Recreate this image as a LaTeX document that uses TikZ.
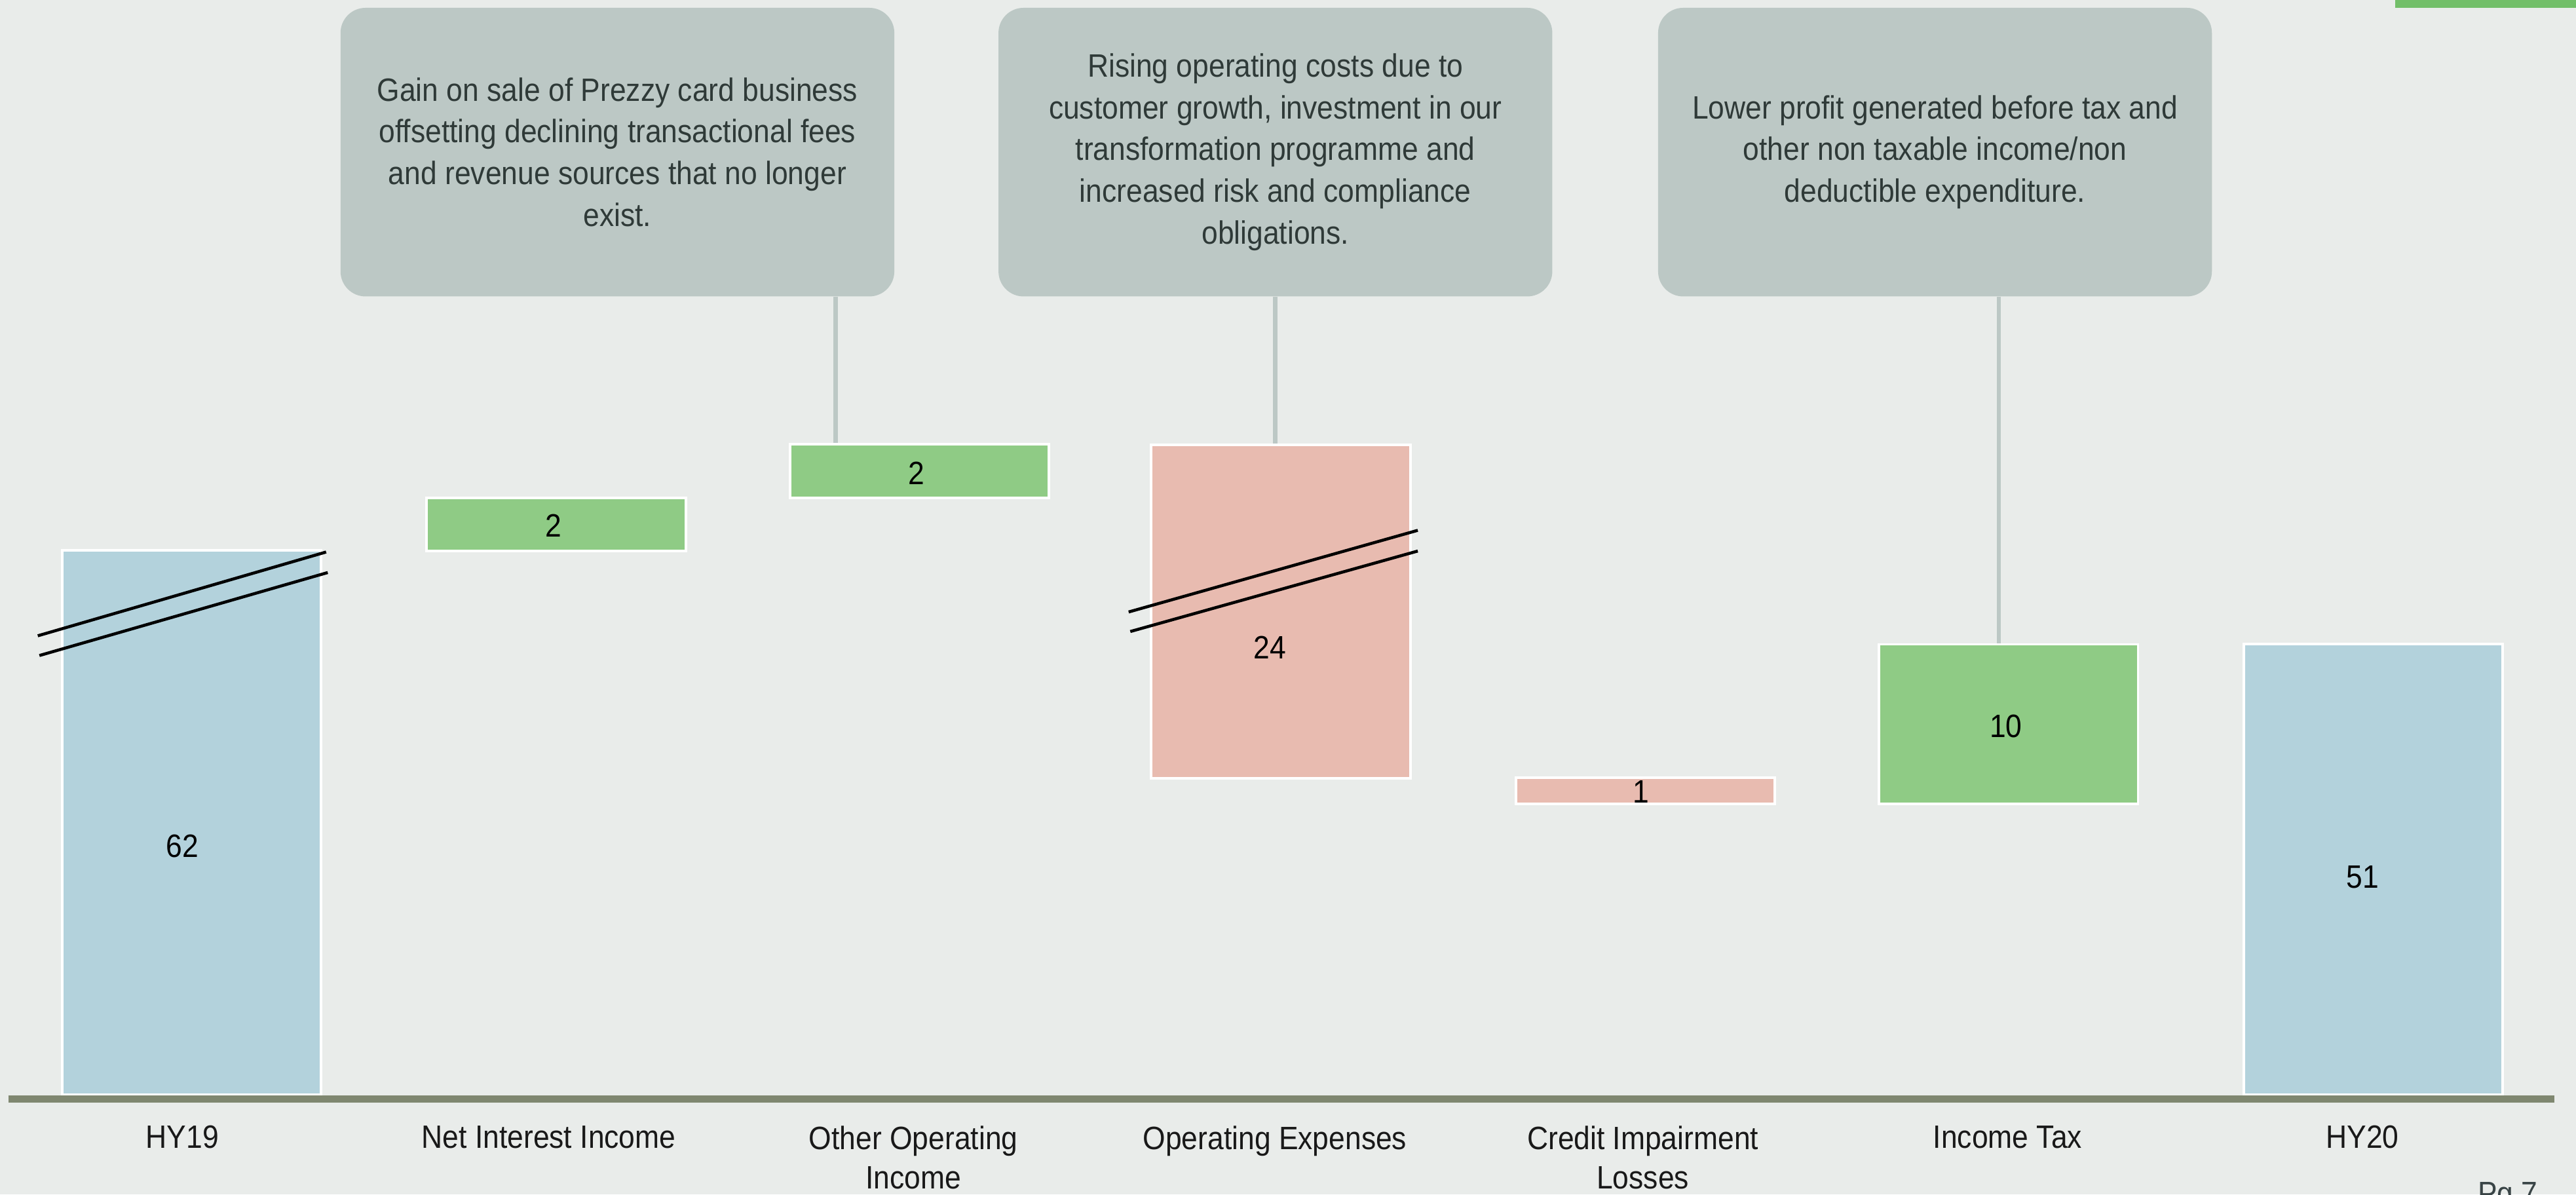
\documentclass[tikz,border=0pt]{standalone}
\usepackage{fontspec}
\setmainfont{Liberation Sans}[FakeStretch=0.9]

\definecolor{pagebg}{RGB}{233,236,234}
\definecolor{notefill}{RGB}{188,200,197}
\definecolor{notetext}{RGB}{47,58,56}
\definecolor{totalblue}{RGB}{179,210,220}
\definecolor{upgreen}{RGB}{143,203,133}
\definecolor{downred}{RGB}{232,187,176}
\definecolor{axisgreen}{RGB}{127,135,112}
\definecolor{brandgreen}{RGB}{114,191,105}
\definecolor{pagetext}{RGB}{57,68,70}

\newcommand{\calloutfont}{\fontsize{14}{18.1}\selectfont}
\newcommand{\axisfont}{\fontsize{14}{17.1}\selectfont}

\begin{document}
\begin{tikzpicture}[
        x=0.025cm, y=-0.025cm,
        bar/.style={rectangle, draw=white, line width=1.1pt, inner sep=0pt, anchor=south west, minimum width=3.94cm},
        total/.style={bar, fill=totalblue},
        gain/.style={bar, fill=upgreen},
        loss/.style={bar, fill=downred},
        barvalue/.style={font=\axisfont, text=black, inner sep=0pt},
        callout/.style={rectangle, rounded corners=0.38cm, fill=notefill, text=notetext, anchor=north west, minimum width=8.425cm, minimum height=4.39cm, align=center, font=\calloutfont},
        link/.style={draw=notefill, line width=1.9pt},
        category/.style={anchor=north, inner sep=0pt, align=center, font=\axisfont, text=black!90},
        breakmark/.style={draw=black, line width=1.3pt}
    ]
        % Page background
        \useasboundingbox (0,0) rectangle (1568,727);
        \fill[pagebg] (0,0) rectangle (1568,727);
        \fill[brandgreen] (1458,0) rectangle (1568,4.7);

        % Bars (bottom left corner at the given point)
        \node[total, minimum height=8.275cm] (hy19) at (37,667) {};
        \node[gain, minimum height=0.8cm] (nii) at (259,336) {};
        \node[gain, minimum height=0.825cm] (ooi) at (480,304) {};
        \node[loss, minimum height=5.075cm] (opex) at (700,474.5) {};
        \node[loss, minimum height=0.4cm] (cil) at (922,490) {};
        \node[gain, minimum height=2.425cm] (tax) at (1143,490) {};
        \node[total, minimum height=6.85cm] (hy20) at (1365,667) {};

        % Bar values
        \node[barvalue] (v_hy19) at (111,515) {62};
        \node[barvalue] (v_nii) at (337,320) {2};
        \node[barvalue] (v_ooi) at (558,288) {2};
        \node[barvalue] (v_opex) at (773,394) {24};
        \node[barvalue] (v_cil) at (999,482) {1};
        \node[barvalue] (v_tax) at (1221,442) {10};
        \node[barvalue] (v_hy20) at (1438,534) {51};

        % Axis breaks
        \draw[breakmark] (23,387) -- (198.5,336);
        \draw[breakmark] (24,399) -- (199.5,348.5);
        \draw[breakmark] (687,372.5) -- (863,322.8);
        \draw[breakmark] (688,384.4) -- (863,335.4);

        % Axis line
        \draw[axisgreen, line width=0.11cm] (5,669) -- (1555,669);

        % Callouts
        \node[callout] (note1) at (207,4.5) {Gain on sale of Prezzy card business\\offsetting declining transactional fees\\and revenue sources that no longer\\exist.};
        \node[callout] (note2) at (607.5,4.5) {Rising operating costs due to\\customer growth, investment in our\\transformation programme and\\increased risk and compliance\\obligations.};
        \node[callout] (note3) at (1009,4.5) {Lower profit generated before tax and\\other non taxable income/non\\deductible expenditure.};

        % Callout connectors
        \coordinate (drop1) at (508.5,0);
        \coordinate (drop3) at (1216.7,0);
        \draw[link] (note1.south -| drop1) -- (ooi.north -| drop1);
        \draw[link] (note2.south) -- (note2.south |- opex.north);
        \draw[link] (note3.south -| drop3) -- (tax.north -| drop3);

        % Category labels
        \node[category] (lab_hy19) at (111,685) {HY19};
        \node[category] (lab_nii) at (334,685) {Net Interest Income};
        \node[category] (lab_ooi) at (556,685) {Other Operating\\Income};
        \node[category] (lab_opex) at (776,685) {Operating Expenses};
        \node[category] (lab_cil) at (1000,685) {Credit Impairment\\Losses};
        \node[category] (lab_tax) at (1222,685) {Income Tax};
        \node[category] (lab_hy20) at (1438,685) {HY20};

        % Page number (cut by the page edge)
        \node[anchor=north west, inner sep=0pt, font=\axisfont, text=pagetext] (pageno) at (1508,719.5) {Pg 7};
    \end{tikzpicture}
\end{document}
